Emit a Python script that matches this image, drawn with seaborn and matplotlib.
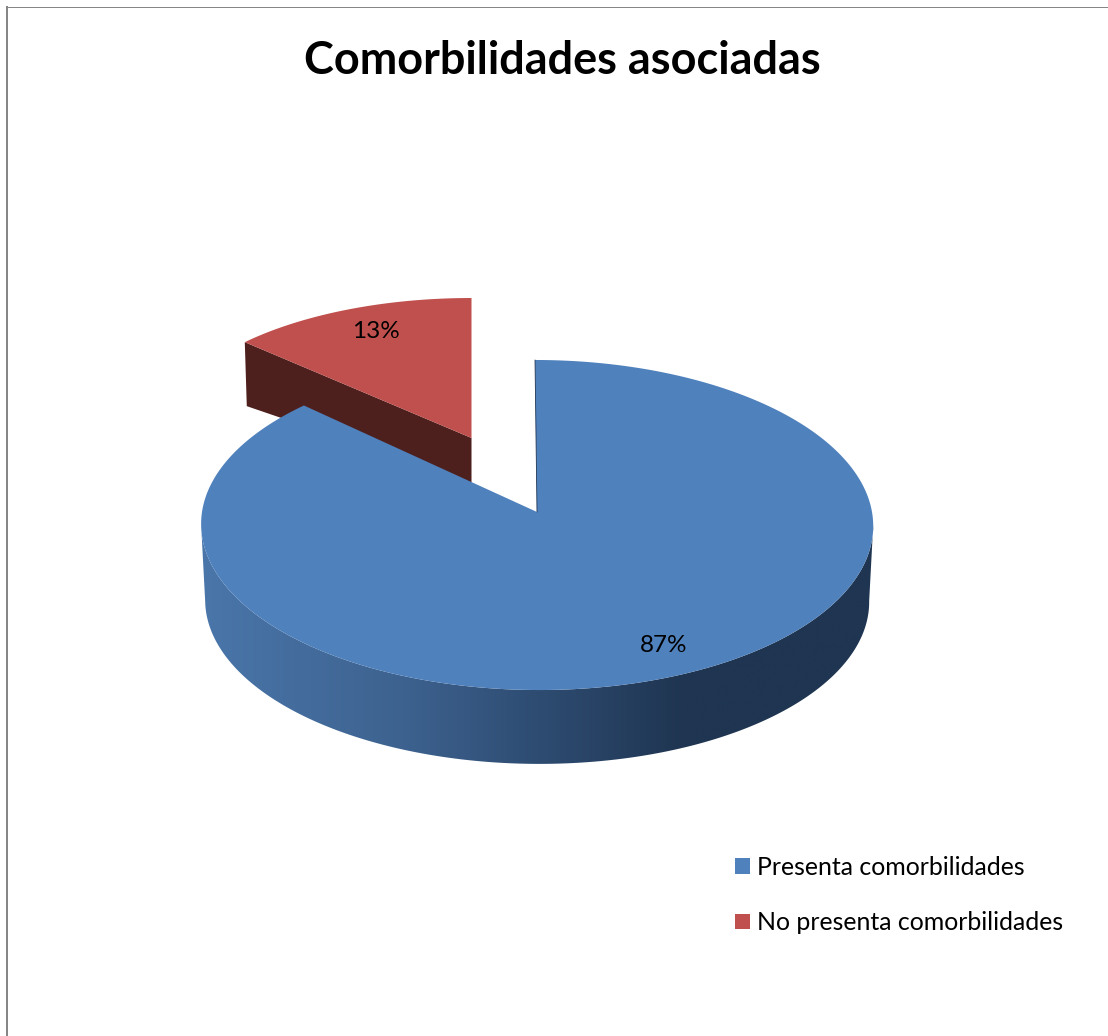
import numpy as np
import matplotlib
matplotlib.use("Agg")
import matplotlib.pyplot as plt
from matplotlib.colors import LinearSegmentedColormap
from matplotlib.patches import Patch, Polygon
import seaborn as sns

TITLE = "Comorbilidades asociadas"
CATEGORIES = ["Presenta comorbilidades", "No presenta comorbilidades"]
SHARES = [87, 13]
COLORS = ["#4f81bd", "#c0504d"]
WALL_RED = "#4d1f1d"
SIDE_STOPS = [(0.0, "#4a76aa"), (0.3, "#3d628f"), (0.5, "#2e4c72"), (0.72, "#1f3551"), (1.0, "#1f3551")]


# point on the tilted disc, theta is clockwise from 12 o'clock
def disc(cx, cy, rx, ry, k, shear, theta):
	f = 1 / (1 + k * np.cos(theta))
	dy = -ry * np.cos(theta) * f
	return np.column_stack((cx + rx * np.sin(theta) * f + shear * dy, cy + dy))


def main():
	sns.set_theme(style="white")
	plt.rcParams["font.family"] = ["Lato", "DejaVu Sans"]

	fig = plt.figure(figsize=(11.08, 10.36), dpi=100)
	ax = fig.add_axes([7 / 1108, 0, 1101 / 1108, 1029.5 / 1036])
	ax.set_xlim(7, 1108)
	ax.set_ylim(1036, 6.5)
	ax.set_xticks([])
	ax.set_yticks([])
	sns.despine(ax=ax, top=False, right=True, bottom=True)
	ax.spines["left"].set(color="#868686", linewidth=1.44)
	ax.spines["top"].set(color="#868686", linewidth=0.72)

	turn = 2 * np.pi * SHARES[0] / sum(SHARES)

	# big slice
	main_disc = (537, 512, 335, 164, 0.0788, 0.013)
	arc = disc(*main_disc, np.linspace(0, turn, 300))
	apex = np.array(main_disc[:2], dtype=float)

	# pulled out slice
	small_disc = (471.5, 438, 311, 140, 0.0, 0.0)
	small_apex = np.array(small_disc[:2], dtype=float)
	small_arc = disc(*small_disc, np.linspace(turn, 2 * np.pi, 60))
	left = small_arc[0]
	wall = np.array([small_apex, left, left + [2, 64], small_apex + [0, 45]])
	ax.add_patch(Polygon(wall, closed=True, fc=WALL_RED, ec="none", zorder=2))
	ax.add_patch(Polygon(np.vstack((small_apex, small_arc)), closed=True, fc=COLORS[1], ec="none", zorder=3))

	# rim of the big slice with the dark shading across it
	front = np.linspace(np.radians(94.5), np.radians(265.5), 200)
	top_edge = disc(*main_disc, front)
	low_edge = apex + [0, 76] + 0.988 * (top_edge - apex)
	rim = Polygon(np.vstack((top_edge, low_edge[::-1])), closed=True, fc="none", ec="none", zorder=4)
	ax.add_patch(rim)
	cmap = LinearSegmentedColormap.from_list("rim", SIDE_STOPS)
	x0, x1 = top_edge[:, 0].max(), top_edge[:, 0].min()
	shade = ax.imshow(np.linspace(0, 1, 256)[None, :], cmap=cmap, aspect="auto", zorder=4,
		extent=(x1, x0, low_edge[:, 1].max() + 1, top_edge[:, 1].min() - 1))
	shade.set_clip_path(rim)
	ax.set_xlim(7, 1108)
	ax.set_ylim(1036, 6.5)

	ax.add_patch(Polygon(np.vstack((apex, arc)), closed=True, fc=COLORS[0], ec="none", zorder=5))
	ax.plot([apex[0], arc[0, 0]], [apex[1], arc[0, 1]], color="#1f3551", lw=0.6, zorder=6)

	ax.text(664, 645, f"{SHARES[0]}%", ha="center", va="center", fontsize=17.5, color="black", zorder=7)
	ax.text(376, 331, f"{SHARES[1]}%", ha="center", va="center", fontsize=17.5, color="black", zorder=7)

	ax.text(562, 61, TITLE, ha="center", va="center", fontsize=32.4, fontweight="bold", color="black")

	handles = [Patch(fc=c, ec="none", label=n) for c, n in zip(COLORS, CATEGORIES)]
	ax.legend(handles=handles, loc="upper left", bbox_to_anchor=(735 / 1108, 1 - 856 / 1036),
		bbox_transform=fig.transFigure, frameon=False, fontsize=17.9, handlelength=0.603, handleheight=0.603,
		handletextpad=0.3, labelspacing=1.3, borderpad=0, borderaxespad=0, labelcolor="black")

	fig.savefig("out.png", dpi=100, facecolor="white")


if __name__ == "__main__":
	main()
